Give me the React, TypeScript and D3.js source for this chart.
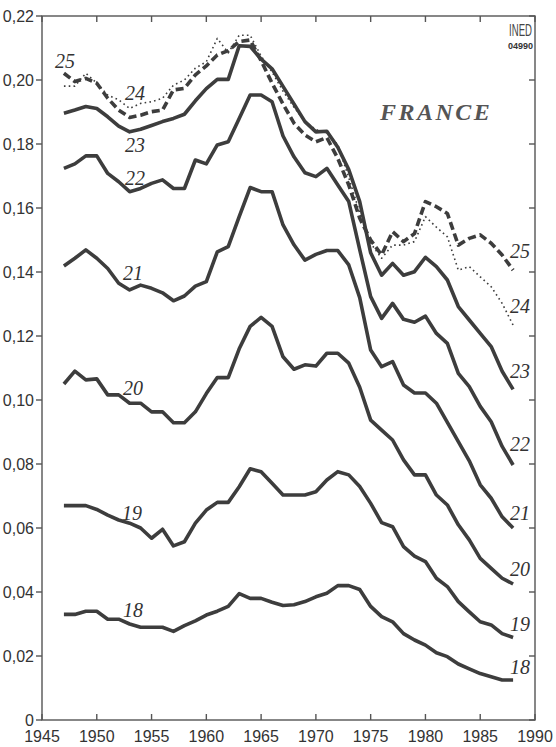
import * as d3 from 'd3';

const years = d3.range(1947, 1989);

// taux de premiers mariages par âge (18 à 25 ans), France
const age18 = [0.033, 0.033, 0.034, 0.034, 0.0315, 0.0315, 0.030, 0.029, 0.029, 0.029, 0.0277, 0.0295, 0.031, 0.0328, 0.034, 0.0355, 0.0395, 0.038, 0.038, 0.0368, 0.0358, 0.036, 0.037, 0.0385, 0.0396, 0.042, 0.042, 0.0408, 0.0355, 0.0323, 0.0307, 0.027, 0.025, 0.0234, 0.021, 0.0198, 0.0175, 0.016, 0.0145, 0.0135, 0.0125, 0.0125];
const age19 = [0.067, 0.067, 0.067, 0.0658, 0.064, 0.0625, 0.0615, 0.060, 0.0568, 0.0596, 0.0544, 0.0557, 0.0615, 0.0656, 0.068, 0.068, 0.0729, 0.0785, 0.0776, 0.074, 0.0703, 0.0703, 0.0703, 0.0713, 0.075, 0.0776, 0.0766, 0.073, 0.0677, 0.0617, 0.0604, 0.0542, 0.0512, 0.0495, 0.0443, 0.0417, 0.037, 0.0338, 0.0307, 0.0297, 0.027, 0.0258];
const age20 = [0.105, 0.109, 0.1063, 0.1066, 0.1016, 0.1016, 0.099, 0.099, 0.0963, 0.0963, 0.0929, 0.0929, 0.0963, 0.102, 0.107, 0.107, 0.116, 0.123, 0.1258, 0.123, 0.1135, 0.1096, 0.111, 0.1106, 0.1146, 0.1146, 0.1115, 0.104, 0.0937, 0.0906, 0.0875, 0.0813, 0.0766, 0.0766, 0.0703, 0.0672, 0.061, 0.0563, 0.0505, 0.0474, 0.0443, 0.0425];
const age21 = [0.1419, 0.1443, 0.1469, 0.1443, 0.1411, 0.1365, 0.1344, 0.1359, 0.1349, 0.1335, 0.131, 0.1325, 0.1356, 0.137, 0.1463, 0.1479, 0.1573, 0.1664, 0.1651, 0.1651, 0.1547, 0.1485, 0.1437, 0.1455, 0.1467, 0.1467, 0.1422, 0.132, 0.1156, 0.1104, 0.112, 0.1047, 0.1022, 0.1022, 0.099, 0.093, 0.087, 0.081, 0.0735, 0.0693, 0.0635, 0.060];
const age22 = [0.1724, 0.1738, 0.1763, 0.1763, 0.1708, 0.1682, 0.1651, 0.1661, 0.1677, 0.1688, 0.1661, 0.1661, 0.175, 0.1738, 0.1797, 0.1807, 0.188, 0.1953, 0.1953, 0.1932, 0.1825, 0.176, 0.171, 0.1698, 0.1724, 0.1672, 0.162, 0.147, 0.1323, 0.1255, 0.1302, 0.1252, 0.1243, 0.1262, 0.1208, 0.1177, 0.1083, 0.1042, 0.098, 0.0932, 0.0855, 0.0797];
const age23 = [0.1896, 0.1906, 0.1917, 0.1911, 0.1885, 0.1856, 0.1838, 0.1846, 0.1858, 0.187, 0.188, 0.1893, 0.1935, 0.1973, 0.2002, 0.2002, 0.2107, 0.2105, 0.2065, 0.2035, 0.198, 0.1925, 0.187, 0.1838, 0.184, 0.179, 0.172, 0.162, 0.146, 0.139, 0.1427, 0.139, 0.1401, 0.1446, 0.1417, 0.1375, 0.1292, 0.125, 0.1208, 0.1167, 0.109, 0.1033];
const age24 = [0.1981, 0.1981, 0.2021, 0.199, 0.1953, 0.1938, 0.1911, 0.1927, 0.1932, 0.1943, 0.1984, 0.2, 0.2037, 0.2057, 0.213, 0.2085, 0.214, 0.214, 0.2075, 0.2025, 0.1965, 0.1915, 0.187, 0.1845, 0.1835, 0.1797, 0.1695, 0.1585, 0.149, 0.1443, 0.1484, 0.1484, 0.1495, 0.1573, 0.154, 0.151, 0.1406, 0.1417, 0.1385, 0.1354, 0.1302, 0.1234];
const age25 = [0.2021, 0.1995, 0.2005, 0.199, 0.1943, 0.1906, 0.1883, 0.189, 0.1901, 0.1906, 0.1969, 0.1974, 0.2016, 0.2044, 0.2078, 0.2092, 0.212, 0.2125, 0.206, 0.199, 0.1925, 0.1865, 0.1828, 0.1807, 0.182, 0.1755, 0.1672, 0.1568, 0.15, 0.1453, 0.1526, 0.1495, 0.152, 0.162, 0.1604, 0.1583, 0.1484, 0.1505, 0.1516, 0.149, 0.1453, 0.1406];

const xTicks = d3.range(1945, 1991, 5);
const yTicks = d3.range(0, 0.2201, 0.02);

const series = [
  { name: '18', values: age18, style: 'solid', left: [123, 617], right: [510, 674] },
  { name: '19', values: age19, style: 'solid', left: [122, 520], right: [510, 631] },
  { name: '20', values: age20, style: 'solid', left: [123, 395], right: [510, 576] },
  { name: '21', values: age21, style: 'solid', left: [123, 280], right: [510, 520] },
  { name: '22', values: age22, style: 'solid', left: [125, 185], right: [510, 451] },
  { name: '23', values: age23, style: 'solid', left: [125, 152], right: [510, 378] },
  { name: '24', values: age24, style: 'dotted', left: [125, 100], right: [510, 313] },
  { name: '25', values: age25, style: 'dashed', left: [55, 68], right: [510, 258] },
];

const W = 556;
const H = 747;
const left = 42, right = 535, top = 16, bottom = 720;
const ink = '#3d3d3d';

export default function App() {
  const x = d3.scaleLinear().domain([1945, 1990]).range([left, right]);
  const y = d3.scaleLinear().domain([0, 0.22]).range([bottom, top]);

  const line = d3
    .line<number>()
    .x((_, i) => x(years[i]))
    .y((d) => y(d));

  const labelFont = '"Liberation Serif", "DejaVu Serif", serif';
  const axisFont = '"Liberation Sans", Arial, sans-serif';

  return (
    <svg
      width={W}
      height={H}
      style={{ position: 'absolute', left: 0, top: 0, background: '#fff' }}
    >
      {/* frame */}
      <rect x={left} y={top} width={right - left} height={bottom - top} fill="none" stroke="#555" strokeWidth={1.4} />

      {/* y ticks */}
      {yTicks.map((t) => (
        <g key={'y' + t}>
          <line x1={left - 6} x2={left} y1={y(t)} y2={y(t)} stroke="#555" strokeWidth={1.4} />
          <line x1={right - 6} x2={right} y1={y(t)} y2={y(t)} stroke="#555" strokeWidth={1.4} />
          <text
            x={left - 8}
            y={y(t) + 5.5}
            textAnchor="end"
            fontFamily={axisFont}
            fontSize={16}
            fill="#333"
          >
            {t === 0 ? '0' : d3.format('.2f')(t).replace('.', ',')}
          </text>
        </g>
      ))}

      {/* x ticks */}
      {xTicks.map((t) => (
        <g key={'x' + t}>
          <line x1={x(t)} x2={x(t)} y1={bottom - 6} y2={bottom} stroke="#555" strokeWidth={1.4} />
          <line x1={x(t)} x2={x(t)} y1={top} y2={top + 6} stroke="#555" strokeWidth={1.4} />
          <text
            x={x(t)}
            y={bottom + 22}
            textAnchor="middle"
            fontFamily={axisFont}
            fontSize={16}
            fill="#333"
          >
            {t}
          </text>
        </g>
      ))}

      {/* lines */}
      {series.map((s) => (
        <path
          key={s.name}
          d={line(s.values) ?? ''}
          fill="none"
          stroke={ink}
          strokeWidth={s.style === 'dotted' ? 1.6 : 3.6}
          strokeDasharray={s.style === 'dashed' ? '8 4' : s.style === 'dotted' ? '1.6 3.2' : undefined}
          strokeLinejoin="round"
        />
      ))}

      {/* series labels */}
      {series.map((s) => (
        <g key={'l' + s.name} fontFamily={labelFont} fontStyle="italic" fontSize={20} fill="#333">
          <text x={s.left[0]} y={s.left[1]}>{s.name}</text>
          <text x={s.right[0]} y={s.right[1]}>{s.name}</text>
        </g>
      ))}

      <text
        x={380}
        y={120}
        fontFamily={labelFont}
        fontStyle="italic"
        fontWeight="bold"
        fontSize={24}
        letterSpacing={2.5}
        fill="#555"
      >
        FRANCE
      </text>

      {/* logo */}
      <text
        x={532}
        y={36}
        textAnchor="end"
        fontFamily={axisFont}
        fontSize={16}
        fill="#444"
        transform="translate(532,0) scale(0.6,1) translate(-532,0)"
      >
        INED
      </text>
      <text x={533} y={49} textAnchor="end" fontFamily={axisFont} fontWeight="bold" fontSize={9} fill="#333">
        04990
      </text>
    </svg>
  );
}
